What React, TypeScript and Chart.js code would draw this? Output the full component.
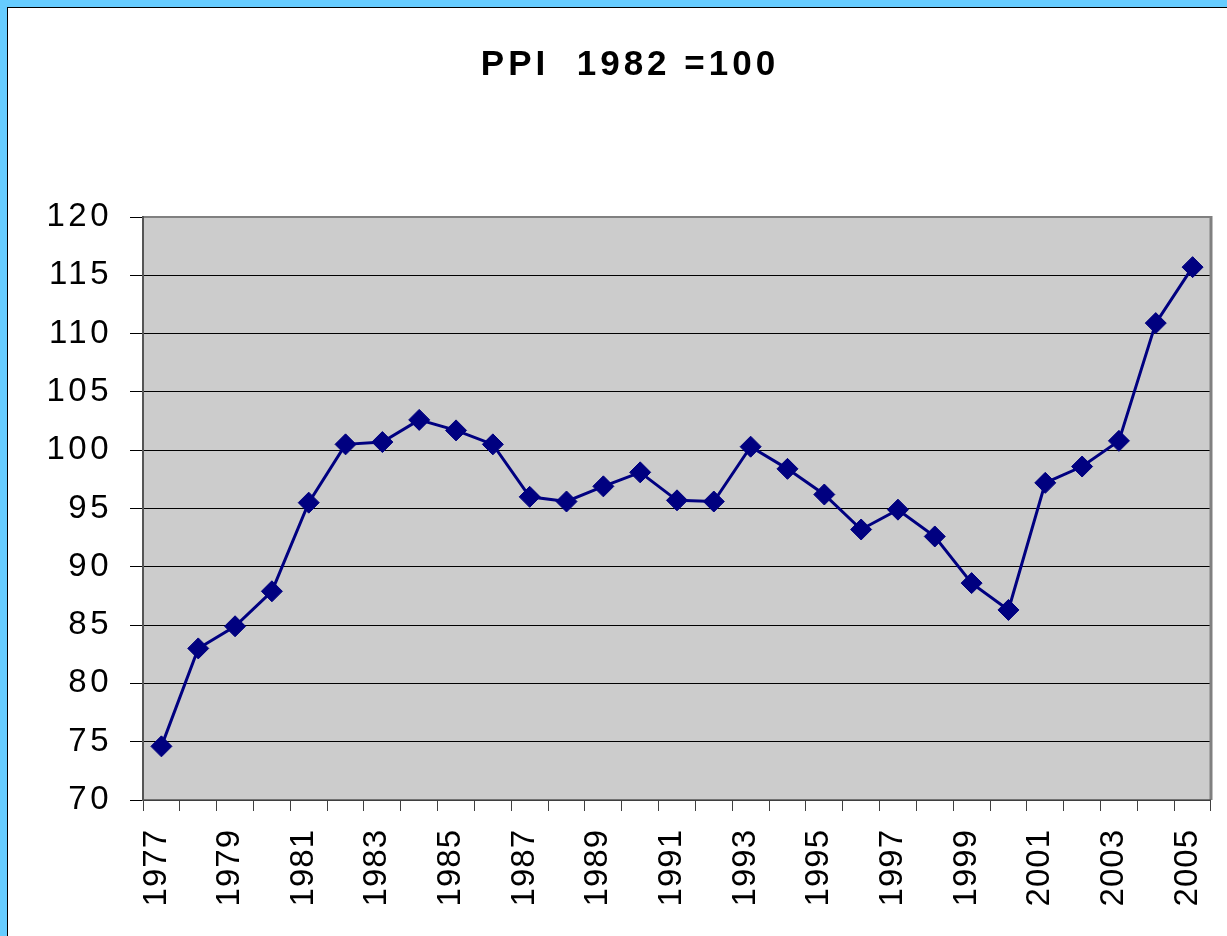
import { useEffect, useRef } from "react";
import { Chart, registerables } from "chart.js";

Chart.register(...registerables);

const years = [
  "1977", "1978", "1979", "1980", "1981", "1982", "1983", "1984", "1985", "1986",
  "1987", "1988", "1989", "1990", "1991", "1992", "1993", "1994", "1995", "1996",
  "1997", "1998", "1999", "2000", "2001", "2002", "2003", "2004", "2005",
];
const ppi = [
  74.6, 83.0, 84.9, 87.9, 95.5, 100.5, 100.7, 102.6, 101.7, 100.5,
  96.0, 95.6, 96.9, 98.1, 95.7, 95.6, 100.3, 98.4, 96.2, 93.2,
  94.9, 92.6, 88.6, 86.3, 97.2, 98.6, 100.8, 110.9, 115.7,
];
const yMin = 70;
const yMax = 120;
const yStep = 5;
const titleText = "PPI  1982 =100";

const FONT = "'Liberation Sans', Arial, Helvetica, sans-serif";
const CW = 1219;
const CH = 928;

const framePlugin = {
  id: "framePlugin",
  afterUpdate(chart: any) {
    const spacing: Record<string, string> = { x: "1px", y: "3.5px" };
    for (const id of ["x", "y"]) {
      const s: any = chart.scales[id];
      if (s && !s.__patched) {
        const orig = s.drawLabels;
        s.drawLabels = function (ca: any) {
          const c = this.ctx;
          c.save();
          c.letterSpacing = spacing[id];
          orig.call(this, ca);
          c.restore();
        };
        s.__patched = true;
      }
    }
  },
  beforeDraw(chart: any) {
    const { ctx, chartArea } = chart;
    const { left, top, width, height } = chartArea;
    ctx.save();
    ctx.fillStyle = "#CCCCCC";
    ctx.fillRect(left, top, width, height);
    ctx.restore();
  },
  beforeDatasetsDraw(chart: any) {
    const { ctx, chartArea } = chart;
    const { left, top, right, bottom } = chartArea;
    ctx.save();
    ctx.strokeStyle = "#808080";
    ctx.lineWidth = 2;
    ctx.beginPath();
    ctx.moveTo(left, top);
    ctx.lineTo(right, top);
    ctx.stroke();
    ctx.lineWidth = 3;
    ctx.beginPath();
    ctx.moveTo(right, top - 1);
    ctx.lineTo(right, bottom);
    ctx.stroke();
    ctx.strokeStyle = "#555555";
    ctx.lineWidth = 2;
    ctx.beginPath();
    ctx.moveTo(left, top - 1);
    ctx.lineTo(left, bottom + 1);
    ctx.stroke();
    ctx.lineWidth = 1.5;
    ctx.beginPath();
    ctx.moveTo(left, bottom);
    ctx.lineTo(right, bottom);
    ctx.stroke();
    ctx.restore();
  },
  afterDraw(chart: any) {
    const { ctx } = chart;
    ctx.save();
    ctx.font = `bold 35px ${FONT}`;
    ctx.letterSpacing = "4px";
    ctx.fillStyle = "#000000";
    ctx.textAlign = "center";
    ctx.textBaseline = "alphabetic";
    ctx.fillText(titleText, 622, 67);
    ctx.restore();
  },
};

export default function App() {
  const ref = useRef<HTMLCanvasElement | null>(null);

  useEffect(() => {
    if (!ref.current) return;
    const chart = new Chart(ref.current, {
      type: "line",
      data: {
        labels: years,
        datasets: [
          {
            label: "PPI",
            data: ppi,
            borderColor: "#000080",
            backgroundColor: "#000080",
            borderWidth: 3,
            pointStyle: "rectRot",
            pointRadius: 10.5,
            pointBorderWidth: 1,
            pointBackgroundColor: "#000080",
            pointBorderColor: "#000080",
            tension: 0,
          },
        ],
      },
      options: {
        responsive: false,
        animation: false,
        devicePixelRatio: 1,
        layout: { padding: { top: 209, left: 0, right: 16, bottom: 0 } },
        plugins: {
          legend: { display: false },
          title: { display: false },
          tooltip: { enabled: false },
        },
        scales: {
          x: {
            type: "category",
            offset: true,
            grid: {
              offset: true,
              drawOnChartArea: false,
              drawTicks: true,
              tickLength: 11,
              color: "#404040",
              lineWidth: 1,
            },
            border: { display: false },
            ticks: {
              autoSkip: false,
              maxRotation: 90,
              minRotation: 90,
              padding: 18,
              labelOffset: -5,
              color: "#000000",
              font: { family: FONT, size: 33 },
              callback: (_v: any, i: number) => (i % 2 === 0 ? years[i] : ""),
            },
            afterFit: (s: any) => {
              s.height = 136;
              s.paddingLeft = 0;
              s.paddingRight = 0;
            },
          },
          y: {
            min: yMin,
            max: yMax,
            grid: {
              color: "#000000",
              lineWidth: 1,
              tickLength: 13,
              drawTicks: true,
            },
            border: { display: false },
            ticks: {
              stepSize: yStep,
              padding: 18,
              color: "#000000",
              font: { family: FONT, size: 33 },
            },
            afterFit: (s: any) => {
              s.width = 135;
              s.paddingTop = 0;
              s.paddingBottom = 0;
            },
          },
        },
      },
      plugins: [framePlugin],
    });
    return () => chart.destroy();
  }, []);

  return (
    <div
      style={{
        position: "fixed",
        left: 0,
        top: 0,
        width: 1227,
        height: 936,
        background: "#66CCFF",
        overflow: "hidden",
      }}
    >
      <div
        style={{
          position: "absolute",
          left: 7,
          top: 7,
          width: 1220,
          height: 929,
          background: "#FFFFFF",
          borderTop: "1px solid #000000",
          borderLeft: "1px solid #000000",
          boxSizing: "border-box",
        }}
      >
        <canvas
          ref={ref}
          width={CW}
          height={CH}
          style={{ display: "block", width: CW, height: CH }}
        />
      </div>
    </div>
  );
}
